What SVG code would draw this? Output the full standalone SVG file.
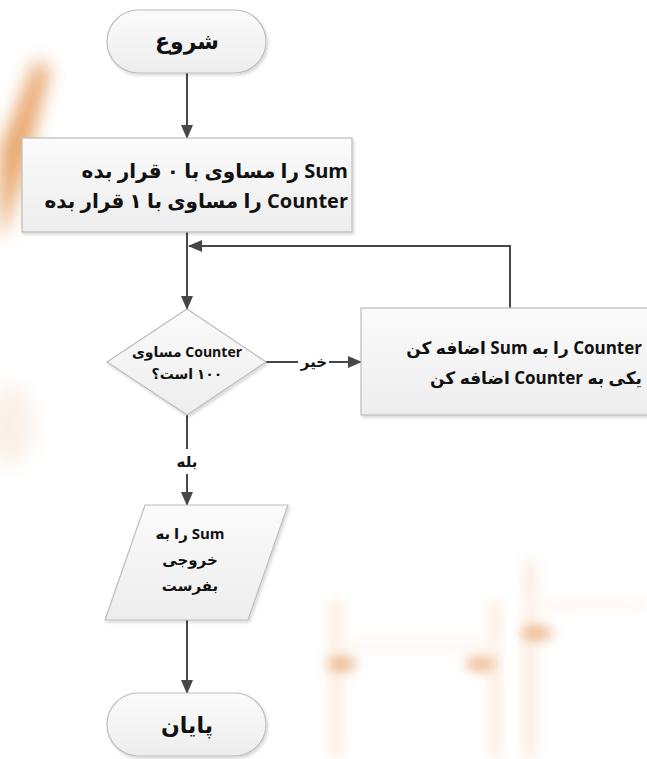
<svg xmlns="http://www.w3.org/2000/svg" width="647" height="759" viewBox="0 0 647 759">
  <defs>
    <style>
      .shape { fill: url(#shapeFill); stroke: #bdbdbd; stroke-width: 1.2; filter: url(#shadow); }
      .flow { fill: none; stroke: #474747; stroke-width: 2; }
      .lbl { font-family: "Open Sans", "DejaVu Sans", sans-serif; font-weight: bold; fill: #111; direction: rtl; unicode-bidi: embed; dominant-baseline: central; }
      .title { font-size: 22px; }
      .big { font-size: 20px; }
      .box { font-size: 17px; }
      .mid { font-size: 15px; }
      .sm { font-size: 14px; }
      .tag { font-size: 15px; }
      .mask { fill: #ffffff; }
    </style>
    <linearGradient id="shapeFill" x1="0" y1="0" x2="0" y2="1">
      <stop offset="0" stop-color="#fbfbfb"/>
      <stop offset="1" stop-color="#ededed"/>
    </linearGradient>
    <filter id="shadow" x="-10%" y="-10%" width="125%" height="130%">
      <feDropShadow dx="1.5" dy="2" stdDeviation="1.5" flood-color="#000" flood-opacity="0.16"/>
    </filter>
    <filter id="haze" x="-50%" y="-50%" width="200%" height="200%">
      <feGaussianBlur stdDeviation="9"/>
    </filter>
    <filter id="hazeSoft" x="-50%" y="-50%" width="200%" height="200%">
      <feGaussianBlur stdDeviation="6"/>
    </filter>
    <marker id="arrow" viewBox="0 0 14 12" refX="13" refY="6" markerWidth="14" markerHeight="12" markerUnits="userSpaceOnUse" orient="auto">
      <path d="M0,0 L14,6 L0,12 Z" fill="#474747"/>
    </marker>
  </defs>

  <!-- backdrop -->
  <rect width="647" height="759" fill="#ffffff"/>
  <g id="backdrop">
    <path d="M36,60 L50,68 L24,170 L4,235 L0,235 L0,150 Z" fill="#e08536" filter="url(#haze)" opacity="0.75"/>
    <ellipse cx="10" cy="425" rx="25" ry="40" fill="#f7e3d3" filter="url(#haze)" opacity="0.5"/>
    <g filter="url(#hazeSoft)" opacity="0.3">
      <rect x="328" y="600" width="16" height="159" fill="#f4cfae"/>
      <rect x="488" y="600" width="14" height="159" fill="#f4cfae"/>
      <rect x="522" y="560" width="16" height="199" fill="#f4cfae"/>
      <rect x="330" y="640" width="170" height="10" fill="#f8e2cf"/>
      <rect x="522" y="600" width="125" height="10" fill="#f8e2cf"/>
    </g>
    <g filter="url(#hazeSoft)" opacity="0.6">
      <ellipse cx="342" cy="664" rx="15" ry="8" fill="#e49a5a"/>
      <ellipse cx="480" cy="664" rx="15" ry="8" fill="#e49a5a"/>
      <ellipse cx="537" cy="633" rx="16" ry="8" fill="#e49a5a"/>
    </g>
  </g>

  <!-- connectors -->
  <g id="connectors">
    <line class="flow" x1="187" y1="73" x2="187" y2="138" marker-end="url(#arrow)"/>
    <line class="flow" x1="187" y1="232" x2="187" y2="309" marker-end="url(#arrow)"/>
    <polyline class="flow" points="510,308 510,246 189,246" marker-end="url(#arrow)"/>
    <line class="flow" x1="266" y1="362" x2="361" y2="362" marker-end="url(#arrow)"/>
    <line class="flow" x1="187" y1="415" x2="187" y2="505" marker-end="url(#arrow)"/>
    <line class="flow" x1="187" y1="620" x2="187" y2="693" marker-end="url(#arrow)"/>
    <rect class="mask" x="298" y="352" width="31" height="19"/>
    <text class="lbl tag" x="314" y="361" text-anchor="middle">خیر</text>
    <rect class="mask" x="172" y="449" width="30" height="25"/>
    <text class="lbl tag" x="187" y="461" text-anchor="middle">بله</text>
  </g>

  <!-- start -->
  <g id="start">
    <rect class="shape" x="107" y="10" width="159" height="63" rx="31.5" ry="31.5"/>
    <text class="lbl title" x="187" y="40" text-anchor="middle">شروع</text>
  </g>

  <!-- initialise -->
  <g id="init">
    <rect class="shape" x="22" y="138" width="330" height="94"/>
    <text class="lbl big" x="348" y="170" text-anchor="start">Sum را مساوی با ۰ قرار بده</text>
    <text class="lbl big" x="348" y="200" text-anchor="start">Counter را مساوی با ۱ قرار بده</text>
  </g>

  <!-- decision -->
  <g id="check">
    <polygon class="shape" points="187,309 266,362 187,415 107,362"/>
    <text class="lbl sm" x="187" y="351" text-anchor="middle">Counter مساوی</text>
    <text class="lbl sm" x="187" y="373" text-anchor="middle">۱۰۰ است؟</text>
  </g>

  <!-- loop body -->
  <g id="accumulate">
    <rect class="shape" x="361" y="308" width="300" height="107"/>
    <text class="lbl box" x="642" y="347" text-anchor="start">Counter را به Sum اضافه کن</text>
    <text class="lbl box" x="642" y="377" text-anchor="start">یکی به Counter اضافه کن</text>
  </g>

  <!-- output -->
  <g id="output">
    <polygon class="shape" points="145,505 288,505 248,620 105,620"/>
    <text class="lbl mid" x="190" y="533" text-anchor="middle">Sum را به</text>
    <text class="lbl mid" x="190" y="559" text-anchor="middle">خروجی</text>
    <text class="lbl mid" x="190" y="585" text-anchor="middle">بفرست</text>
  </g>

  <!-- end -->
  <g id="end">
    <rect class="shape" x="107" y="693" width="159" height="63" rx="31.5" ry="31.5"/>
    <text class="lbl title" x="187" y="724" text-anchor="middle">پایان</text>
  </g>
</svg>
